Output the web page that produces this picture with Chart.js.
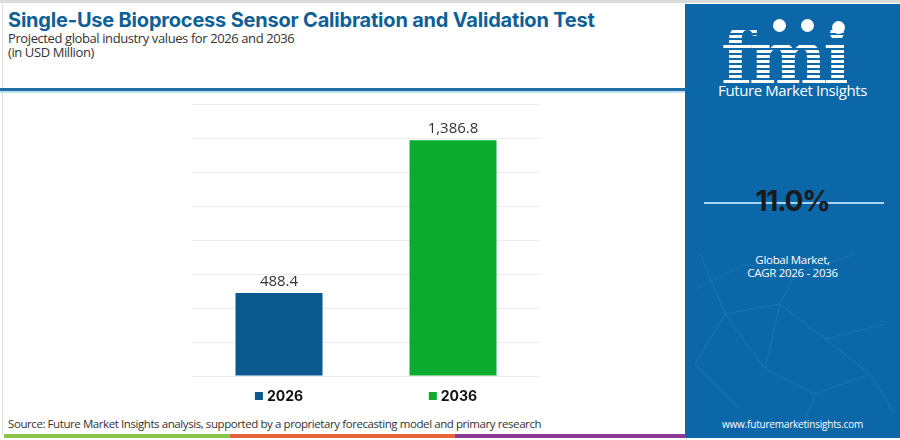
<!DOCTYPE html>
<html>
<head>
<meta charset="utf-8">
<script src="https://cdn.jsdelivr.net/npm/chart.js@4.4.1/dist/chart.umd.min.js"></script>
<style>
  html, body { margin: 0; padding: 0; background: #fff; }
  #page { position: relative; width: 900px; height: 440px; overflow: hidden; font-family: "Open Sans", sans-serif; }
  #topline { position: absolute; left: 0; top: 0; width: 900px; height: 3px; background: #dcdcdc; }
  #leftline { position: absolute; left: 2px; top: 3px; width: 1px; height: 432px; background: #e2e2e2; }
  #title { position: absolute; left: 8px; top: 9px; font: bold 20px Inter, sans-serif; line-height: 22px; color: #0d5f96; letter-spacing: -0.2px; white-space: nowrap; }
  #sub1 { position: absolute; left: 8px; top: 31px; font: 13px "Open Sans", sans-serif; line-height: 14px; color: #333; letter-spacing: -0.4px; white-space: nowrap; }
  #sub2 { position: absolute; left: 8px; top: 45px; font: 13px "Open Sans", sans-serif; line-height: 14px; color: #333; letter-spacing: -0.4px; white-space: nowrap; }
  #hline { position: absolute; left: 0; top: 88px; width: 686px; height: 3px; background: #1f6ea6; }
  #hline2 { position: absolute; left: 0; top: 91px; width: 686px; height: 2px; background: #bfe0f4; }
  #panel { position: absolute; left: 685px; top: 4px; width: 215px; height: 434px; background: #0c67a8; }
  #net { position: absolute; left: 0; top: 240px; }
  #logo { position: absolute; left: 36px; top: 26px; font: bold 74px "DejaVu Serif", serif; line-height: 54px; height: 56px; letter-spacing: -4px;
          color: transparent; background: repeating-linear-gradient(#fff 0 3px, rgba(255,255,255,0) 3px 5px);
          -webkit-background-clip: text; background-clip: text; }
  .dot { position: absolute; width: 13px; height: 13px; border-radius: 50%; background: #fff; }
  #fmi { position: absolute; left: 0; width: 215px; top: 77px; text-align: center; color: #fff; font: 15px "Open Sans", sans-serif; line-height: 18px; letter-spacing: -0.4px; }
  #cagr { position: absolute; left: 0; width: 215px; top: 181px; text-align: center; color: #1a1a1a; font: bold 28px Inter, sans-serif; line-height: 32px; letter-spacing: -1.2px; }
  #cagrline { position: absolute; left: 19px; width: 180px; top: 198px; height: 2px; background: #a9d6f3; }
  #cagrtxt { position: absolute; left: 0; width: 215px; top: 249px; text-align: center; color: #fff; font: 11.5px "Open Sans", sans-serif; line-height: 13px; letter-spacing: -0.3px; }
  #url { position: absolute; left: 0; width: 215px; top: 414px; text-align: center; color: #fff; font: 10px "Open Sans", sans-serif; line-height: 12px; letter-spacing: -0.2px; }
  #source { position: absolute; left: 8px; top: 417px; font: 11.5px "Open Sans", sans-serif; line-height: 14px; color: #333; letter-spacing: -0.42px; white-space: nowrap; }
  .band { position: absolute; top: 434px; height: 4px; }
  #chartbox { position: absolute; left: 150px; top: 95px; width: 430px; height: 325px; }
</style>
</head>
<body>
<div id="page">
  <div id="topline"></div>
  <div id="leftline"></div>
  <div id="title">Single-Use Bioprocess Sensor Calibration and Validation Test</div>
  <div id="sub1">Projected global industry values for 2026 and 2036</div>
  <div id="sub2">(in USD Million)</div>
  <div id="hline"></div>
  <div id="hline2"></div>

  <div id="panel">
    <svg id="net" width="215" height="180" stroke="#5fa8da" stroke-width="1" fill="none" opacity="0.18">
      <path d="M15 10 L40 70 L10 120 L55 165 M40 70 L95 60 L140 95 L200 80 M95 60 L80 125 L130 150 L185 130 L210 170 M140 95 L185 130 M80 125 L40 70 M130 150 L120 175 M10 45 L60 20 L110 30 L170 10 M110 30 L95 60"/>
    </svg>
    <div id="logo">fmi</div>
    <div class="dot" style="left:88px; top:15px;"></div>
    <div class="dot" style="left:116px; top:15px;"></div>
    <div class="dot" style="left:147px; top:17px;"></div>
    <div id="fmi">Future Market Insights</div>
    <div id="cagrline"></div>
    <div id="cagr">11.0%</div>
    <div id="cagrtxt">Global Market,<br>CAGR 2026 - 2036</div>
    <div id="url">www.futuremarketinsights.com</div>
  </div>

  <div id="source">Source: Future Market Insights analysis, supported by a proprietary forecasting model and primary research</div>
  <div class="band" style="left:4px; width:226px; background:#8cc34b;"></div>
  <div class="band" style="left:230px; width:225px; background:#e5623a;"></div>
  <div class="band" style="left:455px; width:230px; background:#8b3a95;"></div>

  <div id="chartbox"><canvas id="chart" width="430" height="325"></canvas></div>
</div>

<script>
// data
const years = ['2026', '2036'];
const marketValues = [488.4, 1386.8];
const barColors = ['#0b5a8f', '#0aab2e'];
const yTicks = [0, 200, 400, 600, 800, 1000, 1200, 1400, 1600];

// value labels above the bars
const valueLabels = {
    id: 'valueLabels',
    afterDatasetsDraw(chart) {
        const c = chart.ctx;
        const meta = chart.getDatasetMeta(0);
        c.save();
        c.font = '15px "Open Sans", sans-serif';
        c.fillStyle = '#333';
        c.textAlign = 'center';
        c.textBaseline = 'bottom';
        meta.data.forEach((bar, i) => {
            const v = marketValues[i].toLocaleString('en-US', { minimumFractionDigits: 1 });
            c.fillText(v, bar.x, bar.y - 4);
        });
        c.restore();
    }
};

// legend under each bar
const yearLegend = {
    id: 'yearLegend',
    afterDraw(chart) {
        const c = chart.ctx;
        const xs = chart.scales.x;
        const y = chart.chartArea.bottom + 20;
        c.save();
        c.font = 'bold 14px Inter, sans-serif';
        c.textBaseline = 'middle';
        years.forEach((yr, i) => {
            const tw = c.measureText(yr).width;
            const box = 8, gap = 4;
            const x0 = xs.getPixelForValue(i) - (box + gap + tw) / 2;
            c.fillStyle = barColors[i];
            c.fillRect(x0, y - box / 2, box, box);
            c.fillStyle = '#111';
            c.fillText(yr, x0 + box + gap, y + 1);
        });
        c.restore();
    }
};

const ctx = document.getElementById('chart').getContext('2d');

const chart = new Chart(ctx, {
    type: 'bar',
    data: {
        labels: years,
        datasets: [{
            data: marketValues,
            backgroundColor: barColors,
            categoryPercentage: 1,
            barPercentage: 0.5
        }]
    },
    options: {
        responsive: false,
        animation: false,
        devicePixelRatio: 1,
        layout: { padding: { left: 42, right: 40, top: 9, bottom: 44 } },
        plugins: {
            legend: { display: false },
            tooltip: { enabled: false }
        },
        scales: {
            x: {
                display: false
            },
            y: {
                min: yTicks[0],
                max: yTicks[yTicks.length - 1],
                afterBuildTicks: (scale) => { scale.ticks = yTicks.map(v => ({ value: v })); },
                grid: { color: '#ececec', drawTicks: false },
                border: { display: false },
                ticks: { display: false }
            }
        }
    },
    plugins: [valueLabels, yearLegend]
});
</script>
</body>
</html>
